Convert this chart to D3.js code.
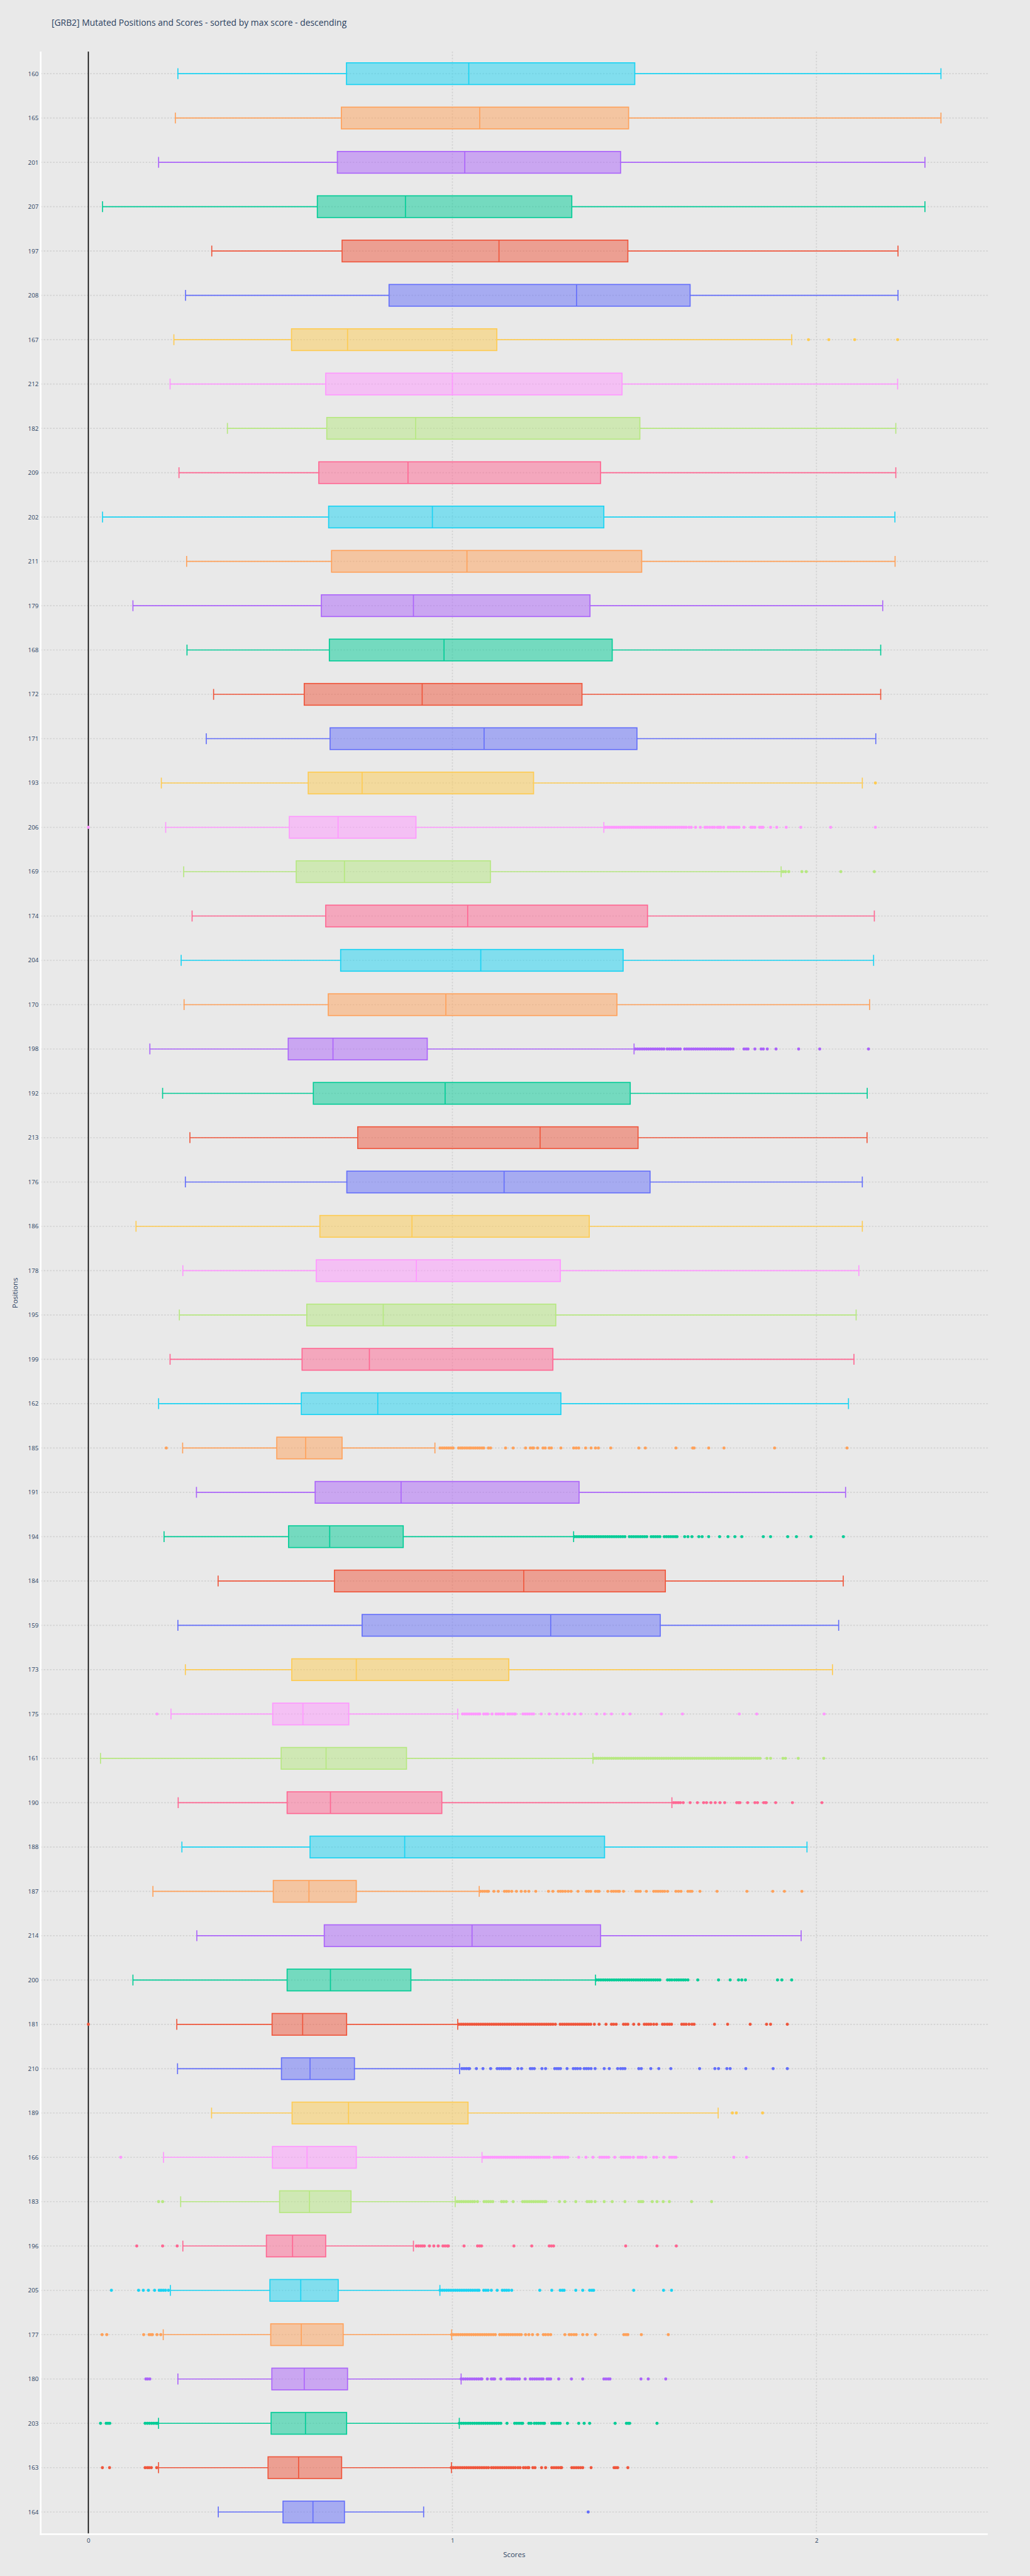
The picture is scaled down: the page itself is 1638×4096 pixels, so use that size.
<!DOCTYPE html>
<html>
<head>
<meta charset="utf-8">
<script src="https://cdn.jsdelivr.net/npm/d3@7/dist/d3.min.js"></script>
<style>
  html, body { margin: 0; padding: 0; background: rgb(233,233,233); }
  svg { display: block; }
  text { font-family: "Open Sans", "Noto Sans", sans-serif; fill: #2a3f5f; }
</style>
</head>
<body>
<svg id="chart" width="1638" height="4095" viewBox="0 0 2000 5000"></svg>
<script>
// ---------------- DATA (top row first) ----------------
const titleText = "[GRB2] Mutated Positions and Scores - sorted by max score - descending";
const xTicks = [0, 1, 2];
const positions = ["160","165","201","207","197","208","167","212","182","209","202","211","179","168","172","171","193","206","169","174","204","170","198","192","213","176","186","178","195","199","162","185","191","194","184","159","173","175","161","190","188","187","214","200","181","210","189","166","183","196","205","177","180","203","163","164"];

const lowerFence = [0.246,0.239,0.193,0.039,0.339,0.267,0.235,0.2245,0.382,0.249,0.039,0.270,0.1225,0.271,0.344,0.324,0.2005,0.2125,0.262,0.285,0.255,0.263,0.169,0.204,0.279,0.2665,0.131,0.2596,0.250,0.2245,0.193,0.259,0.297,0.208,0.3565,0.246,0.2665,0.227,0.0334,0.2468,0.257,0.1774,0.298,0.1225,0.243,0.245,0.3385,0.2065,0.2536,0.2596,0.2254,0.2057,0.246,0.1928,0.1928,0.357];
const q1 = [0.709,0.695,0.684,0.629,0.697,0.826,0.558,0.652,0.655,0.633,0.660,0.668,0.640,0.662,0.593,0.664,0.604,0.552,0.571,0.652,0.693,0.659,0.549,0.618,0.740,0.710,0.636,0.626,0.600,0.587,0.585,0.5176,0.623,0.550,0.676,0.752,0.5587,0.5064,0.5296,0.546,0.609,0.508,0.648,0.546,0.5047,0.5304,0.5596,0.5056,0.5253,0.489,0.4987,0.501,0.504,0.502,0.4936,0.5347];
const median = [1.045,1.075,1.034,0.871,1.128,1.341,0.712,1.000,0.899,0.878,0.945,1.040,0.893,0.977,0.917,1.087,0.752,0.686,0.7035,1.042,1.078,0.982,0.672,0.980,1.241,1.142,0.889,0.901,0.810,0.772,0.795,0.597,0.859,0.663,1.196,1.270,0.736,0.5895,0.653,0.665,0.869,0.606,1.054,0.665,0.5887,0.609,0.7147,0.6007,0.6075,0.561,0.5835,0.585,0.593,0.5964,0.5775,0.617];
const q3 = [1.501,1.484,1.462,1.328,1.482,1.653,1.122,1.466,1.515,1.407,1.416,1.520,1.378,1.439,1.356,1.507,1.223,0.900,1.1045,1.536,1.469,1.452,0.931,1.4885,1.510,1.543,1.376,1.2966,1.284,1.276,1.298,0.697,1.348,0.865,1.585,1.571,1.155,0.7155,0.874,0.971,1.418,0.736,1.407,0.886,0.7095,0.731,1.043,0.736,0.7215,0.652,0.6864,0.700,0.712,0.7095,0.6958,0.7035];
const upperFence = [2.342,2.342,2.298,2.298,2.224,2.224,1.932,2.223,2.218,2.218,2.2155,2.216,2.182,2.1765,2.1765,2.163,2.126,1.416,1.903,2.159,2.157,2.146,1.499,2.1395,2.139,2.126,2.126,2.1165,2.109,2.103,2.088,0.952,2.080,1.333,2.0736,2.061,2.044,1.0146,1.386,1.603,1.974,1.0737,1.958,1.393,1.0146,1.0197,1.730,1.0814,1.0077,0.893,0.9657,0.998,1.024,1.019,0.9974,0.921];

const outliers = [
  [], [], [], [], [], [],
  [1.978,2.034,2.105,2.223],
  [], [], [], [], [], [], [], [], [],
  [2.162],
  [0.0,1.420,1.426,1.432,1.438,1.444,1.450,1.456,1.462,1.468,1.474,1.480,1.486,1.492,1.498,1.504,1.510,1.516,1.522,1.528,1.534,1.540,1.546,1.552,1.558,1.564,1.570,1.576,1.582,1.588,1.594,1.600,1.606,1.612,1.618,1.624,1.630,1.636,1.642,1.650,1.656,1.668,1.681,1.694,1.700,1.707,1.714,1.720,1.728,1.733,1.737,1.745,1.758,1.764,1.770,1.775,1.781,1.787,1.801,1.820,1.825,1.831,1.844,1.849,1.853,1.874,1.891,1.917,1.957,2.039,2.162],
  [1.908,1.915,1.924,1.960,1.972,2.067,2.159],
  [], [], [],
  [1.503,1.509,1.515,1.521,1.527,1.533,1.539,1.545,1.551,1.557,1.563,1.569,1.575,1.581,1.590,1.596,1.602,1.608,1.614,1.620,1.626,1.638,1.644,1.650,1.656,1.662,1.668,1.674,1.680,1.686,1.692,1.698,1.704,1.710,1.716,1.722,1.728,1.734,1.740,1.746,1.752,1.758,1.764,1.771,1.801,1.807,1.812,1.831,1.848,1.854,1.865,1.889,1.951,2.009,2.143],
  [], [], [], [], [], [], [], [],
  [0.214,0.966,0.972,0.978,0.984,0.990,0.996,1.002,1.017,1.023,1.028,1.034,1.040,1.046,1.051,1.057,1.063,1.069,1.075,1.081,1.086,1.099,1.105,1.146,1.167,1.201,1.214,1.220,1.223,1.234,1.249,1.255,1.266,1.272,1.298,1.333,1.340,1.347,1.366,1.381,1.393,1.401,1.435,1.512,1.530,1.614,1.660,1.664,1.704,1.746,1.885,2.084],
  [],
  [1.336,1.342,1.348,1.354,1.360,1.366,1.372,1.378,1.384,1.390,1.396,1.402,1.408,1.414,1.420,1.426,1.432,1.438,1.444,1.450,1.456,1.462,1.468,1.474,1.486,1.492,1.498,1.504,1.510,1.516,1.522,1.528,1.534,1.546,1.552,1.558,1.564,1.570,1.582,1.588,1.594,1.600,1.606,1.612,1.617,1.638,1.647,1.658,1.677,1.686,1.704,1.734,1.757,1.776,1.795,1.854,1.874,1.921,1.945,1.985,2.074],
  [], [], [],
  [0.1885,1.028,1.034,1.040,1.046,1.052,1.058,1.064,1.070,1.075,1.086,1.092,1.097,1.109,1.120,1.126,1.132,1.138,1.141,1.152,1.158,1.164,1.170,1.173,1.194,1.200,1.206,1.212,1.218,1.223,1.244,1.266,1.287,1.304,1.320,1.336,1.353,1.396,1.418,1.437,1.469,1.488,1.574,1.632,1.788,1.836,2.021],
  [1.389,1.395,1.401,1.407,1.413,1.419,1.425,1.431,1.437,1.443,1.449,1.455,1.461,1.467,1.473,1.479,1.485,1.491,1.497,1.503,1.509,1.515,1.521,1.527,1.533,1.539,1.545,1.551,1.557,1.563,1.569,1.575,1.581,1.587,1.593,1.599,1.605,1.611,1.617,1.623,1.629,1.635,1.641,1.647,1.653,1.659,1.665,1.671,1.677,1.683,1.689,1.695,1.701,1.707,1.713,1.719,1.725,1.731,1.737,1.743,1.749,1.755,1.761,1.767,1.773,1.779,1.785,1.791,1.797,1.803,1.809,1.815,1.821,1.827,1.833,1.839,1.845,1.864,1.874,1.908,1.915,1.950,2.020],
  [1.608,1.614,1.620,1.626,1.634,1.653,1.673,1.690,1.698,1.710,1.722,1.735,1.748,1.781,1.786,1.790,1.811,1.831,1.838,1.855,1.860,1.862,1.888,1.934,2.015],
  [],
  [1.077,1.083,1.089,1.095,1.099,1.114,1.126,1.143,1.149,1.155,1.163,1.176,1.189,1.200,1.210,1.229,1.264,1.276,1.291,1.297,1.303,1.310,1.318,1.326,1.345,1.368,1.374,1.380,1.393,1.399,1.403,1.427,1.437,1.443,1.449,1.455,1.459,1.470,1.504,1.510,1.516,1.533,1.553,1.559,1.565,1.571,1.577,1.583,1.591,1.614,1.621,1.628,1.647,1.653,1.658,1.680,1.727,1.809,1.880,1.912,1.960],
  [],
  [1.396,1.402,1.408,1.414,1.420,1.426,1.432,1.438,1.444,1.450,1.456,1.462,1.468,1.474,1.480,1.486,1.492,1.498,1.504,1.510,1.516,1.522,1.528,1.534,1.540,1.546,1.552,1.558,1.564,1.570,1.591,1.597,1.603,1.610,1.616,1.622,1.628,1.634,1.640,1.647,1.674,1.731,1.763,1.786,1.795,1.805,1.893,1.905,1.932],
  [0.0,1.018,1.024,1.030,1.036,1.042,1.048,1.054,1.060,1.066,1.072,1.078,1.084,1.090,1.096,1.102,1.108,1.114,1.120,1.126,1.132,1.138,1.144,1.150,1.156,1.162,1.168,1.174,1.180,1.186,1.192,1.198,1.204,1.210,1.216,1.222,1.228,1.234,1.240,1.246,1.252,1.258,1.264,1.270,1.276,1.283,1.296,1.302,1.308,1.314,1.320,1.326,1.332,1.338,1.344,1.350,1.356,1.362,1.368,1.374,1.380,1.390,1.403,1.422,1.437,1.443,1.450,1.470,1.476,1.482,1.498,1.512,1.527,1.533,1.539,1.545,1.553,1.561,1.577,1.583,1.590,1.596,1.602,1.630,1.636,1.642,1.650,1.658,1.664,1.720,1.756,1.818,1.863,1.874,1.920],
  [1.026,1.032,1.038,1.044,1.047,1.066,1.084,1.105,1.123,1.129,1.135,1.141,1.147,1.153,1.158,1.180,1.190,1.214,1.219,1.225,1.246,1.256,1.281,1.287,1.292,1.297,1.315,1.332,1.338,1.344,1.351,1.362,1.368,1.374,1.381,1.392,1.417,1.431,1.454,1.462,1.468,1.474,1.512,1.519,1.545,1.567,1.600,1.679,1.721,1.731,1.754,1.763,1.806,1.881,1.920],
  [1.769,1.780,1.852],
  [0.089,1.086,1.092,1.098,1.104,1.110,1.116,1.122,1.128,1.134,1.140,1.146,1.152,1.158,1.164,1.170,1.176,1.182,1.188,1.194,1.200,1.206,1.212,1.218,1.224,1.230,1.236,1.242,1.248,1.254,1.260,1.266,1.279,1.285,1.291,1.297,1.303,1.310,1.317,1.347,1.367,1.386,1.405,1.411,1.417,1.423,1.429,1.446,1.464,1.470,1.476,1.482,1.488,1.497,1.510,1.516,1.522,1.531,1.553,1.561,1.581,1.597,1.603,1.609,1.614,1.773,1.808],
  [0.193,0.204,1.013,1.019,1.025,1.031,1.037,1.043,1.049,1.055,1.061,1.069,1.087,1.093,1.099,1.105,1.111,1.135,1.141,1.148,1.167,1.193,1.199,1.205,1.211,1.217,1.223,1.229,1.235,1.241,1.247,1.253,1.257,1.294,1.309,1.339,1.370,1.376,1.382,1.392,1.417,1.439,1.474,1.512,1.518,1.523,1.549,1.562,1.579,1.596,1.657,1.712],
  [0.133,0.204,0.244,0.901,0.907,0.913,0.918,0.923,0.937,0.949,0.961,0.974,0.980,0.986,0.989,1.032,1.069,1.075,1.080,1.169,1.218,1.266,1.272,1.278,1.476,1.562,1.615],
  [0.0634,0.138,0.151,0.165,0.182,0.1945,0.200,0.206,0.212,0.220,0.966,0.972,0.978,0.984,0.990,0.996,1.002,1.008,1.014,1.020,1.026,1.032,1.038,1.044,1.050,1.056,1.062,1.068,1.073,1.086,1.092,1.098,1.107,1.123,1.137,1.143,1.149,1.155,1.163,1.240,1.273,1.296,1.302,1.307,1.339,1.358,1.377,1.383,1.388,1.498,1.580,1.602],
  [0.0377,0.0506,0.152,0.167,0.172,0.176,0.1885,0.199,0.998,1.004,1.010,1.016,1.022,1.028,1.034,1.040,1.046,1.052,1.058,1.064,1.070,1.076,1.082,1.088,1.094,1.100,1.106,1.112,1.118,1.130,1.136,1.142,1.148,1.154,1.160,1.166,1.172,1.178,1.184,1.189,1.201,1.210,1.220,1.234,1.250,1.256,1.263,1.270,1.309,1.321,1.327,1.334,1.340,1.358,1.370,1.393,1.471,1.477,1.482,1.519,1.593],
  [0.158,0.163,0.169,1.024,1.030,1.036,1.042,1.048,1.054,1.060,1.066,1.072,1.078,1.081,1.096,1.107,1.112,1.116,1.133,1.150,1.156,1.162,1.167,1.172,1.178,1.184,1.200,1.214,1.220,1.226,1.232,1.238,1.244,1.249,1.260,1.265,1.270,1.292,1.327,1.358,1.416,1.422,1.428,1.433,1.518,1.538,1.586],
  [0.0334,0.049,0.054,0.059,0.156,0.162,0.168,0.174,0.180,0.186,0.190,1.019,1.025,1.031,1.037,1.043,1.049,1.055,1.061,1.067,1.073,1.079,1.085,1.091,1.097,1.103,1.109,1.115,1.121,1.127,1.133,1.150,1.171,1.177,1.183,1.189,1.193,1.210,1.216,1.225,1.231,1.237,1.243,1.249,1.253,1.273,1.279,1.285,1.291,1.296,1.316,1.347,1.362,1.377,1.447,1.478,1.483,1.487,1.562],
  [0.0386,0.0583,0.156,0.162,0.167,0.173,0.1877,0.997,1.003,1.009,1.015,1.021,1.027,1.033,1.039,1.045,1.051,1.057,1.063,1.069,1.075,1.081,1.087,1.093,1.099,1.107,1.113,1.119,1.125,1.131,1.137,1.143,1.149,1.155,1.161,1.167,1.173,1.180,1.186,1.195,1.201,1.207,1.210,1.221,1.227,1.245,1.256,1.273,1.279,1.285,1.291,1.297,1.300,1.328,1.334,1.340,1.346,1.352,1.358,1.381,1.444,1.449,1.454,1.482],
  [1.373]
];

const palette = ["#636efa","#EF553B","#00cc96","#ab63fa","#FFA15A","#19d3f3","#FF6692","#B6E880","#FF97FF","#FECB52"];

// ---------------- LAYOUT ----------------
const W = 2000, H = 5000;
const plot = { left: 79, right: 1918, top: 100, bottom: 4920 };
const bg = "rgb(233,233,233)";

const svg = d3.select("#chart");
svg.append("rect").attr("x", 0).attr("y", 0).attr("width", W).attr("height", H).attr("fill", bg);

const x = d3.scaleLinear().domain([-0.1309, 2.4706]).range([plot.left, plot.right]);
const y = d3.scaleBand().domain(positions).range([plot.top, plot.bottom]).padding(0);
const bw = y.bandwidth();
const boxH = bw * 0.49;
const capH = boxH * 0.5;

const rows = positions.map((p, i) => ({
  pos: p,
  lo: lowerFence[i], q1: q1[i], med: median[i], q3: q3[i], hi: upperFence[i],
  out: outliers[i],
  color: palette[(positions.length - 1 - i) % palette.length]
}));

// Gridlines
const grid = svg.append("g");
grid.selectAll("line.hg").data(positions).join("line")
  .attr("x1", plot.left).attr("x2", plot.right)
  .attr("y1", d => y(d) + bw / 2).attr("y2", d => y(d) + bw / 2)
  .attr("stroke", "#d2d2d2").attr("stroke-width", 2).attr("stroke-dasharray", "3,3");
grid.selectAll("line.vg").data(xTicks.filter(t => t !== 0)).join("line")
  .attr("x1", d => x(d)).attr("x2", d => x(d))
  .attr("y1", plot.top).attr("y2", plot.bottom)
  .attr("stroke", "#d2d2d2").attr("stroke-width", 2).attr("stroke-dasharray", "3,3");

// Zero line
svg.append("line")
  .attr("x1", x(0)).attr("x2", x(0)).attr("y1", plot.top).attr("y2", plot.bottom)
  .attr("stroke", "#000").attr("stroke-width", 2);

// Boxes
const g = svg.append("g");
const rowG = g.selectAll("g.row").data(rows).join("g")
  .attr("transform", d => `translate(0,${y(d.pos) + bw / 2})`);

// whiskers
rowG.append("path")
  .attr("d", d => `M${x(d.lo)},0H${x(d.q1)}M${x(d.q3)},0H${x(d.hi)}` +
    `M${x(d.lo)},${-capH / 2}V${capH / 2}M${x(d.hi)},${-capH / 2}V${capH / 2}`)
  .attr("fill", "none").attr("stroke", d => d.color).attr("stroke-width", 2);

// box
rowG.append("rect")
  .attr("x", d => x(d.q1)).attr("width", d => x(d.q3) - x(d.q1))
  .attr("y", -boxH / 2).attr("height", boxH)
  .attr("fill", d => d.color).attr("fill-opacity", 0.5)
  .attr("stroke", d => d.color).attr("stroke-width", 2);

// median
rowG.append("line")
  .attr("x1", d => x(d.med)).attr("x2", d => x(d.med))
  .attr("y1", -boxH / 2).attr("y2", boxH / 2)
  .attr("stroke", d => d.color).attr("stroke-width", 2);

// outliers
rowG.each(function(d) {
  d3.select(this).selectAll("circle").data(d.out).join("circle")
    .attr("cx", v => x(v)).attr("cy", 0).attr("r", 3)
    .attr("fill", d.color);
});

// Axis lines (white)
svg.append("line").attr("x1", plot.left).attr("x2", plot.left).attr("y1", plot.top).attr("y2", plot.bottom + 1.5)
  .attr("stroke", "#fff").attr("stroke-width", 3);
svg.append("line").attr("x1", plot.left - 1.5).attr("x2", plot.right).attr("y1", plot.bottom).attr("y2", plot.bottom)
  .attr("stroke", "#fff").attr("stroke-width", 3);

// X tick labels
const xAxis = d3.axisBottom(x).tickValues(xTicks).tickSize(0).tickPadding(0).tickFormat(d3.format("d"));
const xg = svg.append("g").attr("transform", `translate(0,${plot.bottom})`).call(xAxis);
xg.select(".domain").remove();
xg.selectAll("text").attr("y", 16).attr("dy", null)
  .style("font-size", "12px").style("fill", "#2a3f5f").style("font-family", '"Open Sans", sans-serif');

// Y tick labels
const yAxis = d3.axisLeft(y).tickSize(0).tickPadding(0);
const yg = svg.append("g").attr("transform", `translate(${plot.left - 4},0)`).call(yAxis);
yg.select(".domain").remove();
yg.selectAll("text").attr("dy", "0.35em")
  .style("font-size", "12px").style("fill", "#2a3f5f").style("font-family", '"Open Sans", sans-serif');

// Axis titles
svg.append("text").attr("x", (plot.left + plot.right) / 2).attr("y", 4964)
  .attr("text-anchor", "middle").style("font-size", "14px").text("Scores");
svg.append("text").attr("transform", `translate(34,${(plot.top + plot.bottom) / 2}) rotate(-90)`)
  .attr("text-anchor", "middle").style("font-size", "14px").text("Positions");

// Title
svg.append("text").attr("x", 100).attr("y", 50)
  .style("font-size", "17px").text(titleText);
</script>
</body>
</html>
